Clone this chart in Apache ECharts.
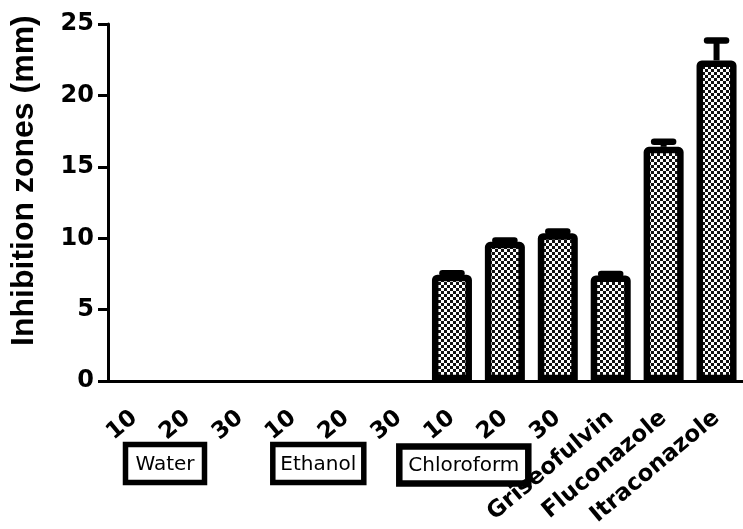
<!DOCTYPE html>
<html>
<head>
<meta charset="utf-8">
<script src="https://cdn.jsdelivr.net/npm/echarts@6/dist/echarts.min.js"></script>
<style>
html,body{margin:0;padding:0;background:#fff;}
#chart{width:743px;height:529px;}
</style>
</head>
<body>
<div id="chart"></div>
<script>
const categories = ['10','20','30','10','20','30','10','20','30','Griseofulvin','Fluconazole','Itraconazole'];
const means = [0,0,0,0,0,0,7.45,9.75,10.35,7.4,16.4,22.45];
const errors = [0,0,0,0,0,0,0.1,0.1,0.12,0.1,0.35,1.4];
const yTicks = [0,5,10,15,20,25];
const groupLabels = ['Water','Ethanol','Chloroform'];
const yTitle = 'Inhibition zones (mm)';

const FONT = '"Liberation Sans", Arial, sans-serif';
const WIDE = '"DejaVu Sans", "Liberation Sans", sans-serif';

// checkerboard fill pattern
const pat = document.createElement('canvas');
pat.width = 6; pat.height = 6;
const pc = pat.getContext('2d');
pc.fillStyle = '#fff'; pc.fillRect(0,0,6,6);
pc.fillStyle = '#111';
pc.fillRect(0,0,3,3); pc.fillRect(3,3,3,3);

const chart = echarts.init(document.getElementById('chart'), null, {renderer:'canvas'});

const barData = means.map(v => v > 0 ? v : {value:v, itemStyle:{borderWidth:0, opacity:0}});
const errData = means.map((m,i)=>[i, m, errors[i]]);

const boxes = [
  {x:125.5, y:444.5, w:79, h:38, lw:5.5},
  {x:272.8, y:444.5, w:91, h:38, lw:5.5},
  {x:399.3, y:446.6, w:129, h:37, lw:6.5}
];

const graphics = [];
groupLabels.forEach((g,i)=>{
  const b = boxes[i];
  graphics.push({
    type:'rect', z:-1,
    shape:{x:b.x, y:b.y, width:b.w, height:b.h},
    style:{fill:'#fff', stroke:'#000', lineWidth:b.lw}
  });
  graphics.push({
    type:'text', z:-1, z2:10,
    x:b.x + b.w/2, y:b.y + b.h/2 + 1,
    style:{text:g, font:'20px ' + WIDE, fill:'#000', align:'center', verticalAlign:'middle'}
  });
});

chart.setOption({
  animation:false,
  backgroundColor:'#fff',
  grid:{left:107.5, right:-6.5, top:24, bottom:147, containLabel:false},
  xAxis:{
    type:'category',
    data:categories,
    boundaryGap:true,
    z:2,
    axisLine:{lineStyle:{color:'#000', width:3}},
    axisTick:{alignWithLabel:true, length:10, lineStyle:{color:'#000', width:3}},
    axisLabel:{interval:0, rotate:40, margin:34, color:'#000', fontFamily:WIDE, fontWeight:'bold', fontSize:23}
  },
  yAxis:{
    type:'value',
    min:yTicks[0], max:yTicks[yTicks.length-1], interval:5,
    name:yTitle,
    nameLocation:'middle',
    nameGap:68,
    nameTextStyle:{color:'#000', fontFamily:FONT, fontWeight:'bold', fontSize:32, padding:[0,0,0,44]},
    axisLine:{show:true, lineStyle:{color:'#000', width:3}},
    axisTick:{show:true, length:10, lineStyle:{color:'#000', width:3}},
    axisLabel:{margin:14, color:'#000', fontFamily:WIDE, fontWeight:'bold', fontSize:24},
    splitLine:{show:false}
  },
  series:[
    {
      type:'bar',
      data:barData,
      barWidth:40,
      itemStyle:{
        color:{image:pat, repeat:'repeat'},
        borderColor:'#000', borderWidth:6.5, borderRadius:[2,2,0,0]
      },
      z:2
    },
    {
      type:'custom',
      data:errData,
      z:3,
      renderItem:function(params, api){
        const idx = api.value(0), m = api.value(1), e = api.value(2);
        if (!(e > 0)) return null;
        const top = api.coord([idx, m + e]);
        const base = api.coord([idx, m]);
        return {
          type:'group',
          children:[
            {type:'line', shape:{x1:top[0], y1:base[1], x2:top[0], y2:top[1]}, style:{stroke:'#000', lineWidth:6}},
            {type:'line', shape:{x1:top[0]-9.5, y1:top[1], x2:top[0]+9.5, y2:top[1]}, style:{stroke:'#000', lineWidth:6.5, lineCap:'round'}}
          ]
        };
      }
    }
  ],
  graphic:graphics
});
</script>
</body>
</html>
